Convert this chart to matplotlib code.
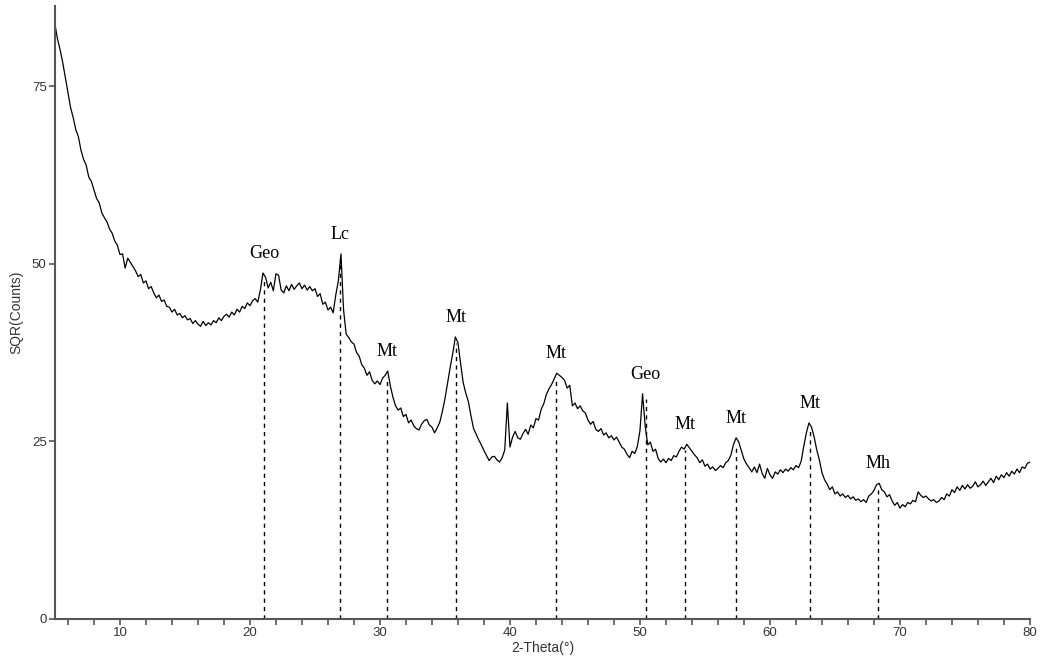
#!/usr/bin/env python

import numpy as np
import matplotlib
matplotlib.use("Agg")
import matplotlib.pyplot as plt
from matplotlib.ticker import MultipleLocator

#### Diffraction scan, 5-80 deg 2-theta in 0.2 deg steps, sqrt of counts ####
sqr_counts = [
    83.7, 81.6, 80.1, 78.3, 76.2, 74.1, 72.0, 70.6, 68.9, 67.9,   # 5.0 - 6.8
    66.0, 64.7, 63.9, 62.2, 61.6, 60.4, 59.2, 58.6, 57.2, 56.5,   # 7.0 - 8.8
    55.9, 54.9, 54.3, 53.2, 52.6, 51.3, 51.4, 49.4, 50.8, 50.2,   # 9.0 - 10.8
    49.6, 49.0, 48.2, 48.5, 47.3, 47.6, 46.5, 46.8, 45.9, 45.2,   # 11.0 - 12.8
    45.6, 44.7, 44.9, 44.0, 43.9, 43.2, 43.6, 42.8, 43.0, 42.4,   # 13.0 - 14.8
    42.7, 42.1, 42.3, 41.6, 42.0, 41.5, 41.2, 41.9, 41.3, 41.7,   # 15.0 - 16.8
    41.4, 42.0, 41.7, 42.4, 42.0, 42.6, 42.9, 42.5, 43.2, 42.8,   # 17.0 - 18.8
    43.6, 43.2, 44.0, 43.7, 44.5, 44.1, 44.8, 45.1, 44.6, 46.3,   # 19.0 - 20.8
    48.7, 48.1, 46.6, 47.4, 46.2, 48.6, 48.4, 46.3, 45.9, 46.9,   # 21.0 - 22.8
    46.2, 47.1, 46.4, 46.9, 47.3, 46.5, 47.0, 46.3, 46.8, 46.2,   # 23.0 - 24.8
    46.5, 45.4, 45.8, 44.3, 44.6, 43.5, 43.9, 43.1, 45.6, 47.6,   # 25.0 - 26.8
    51.4, 43.5, 40.1, 39.6, 39.0, 38.7, 37.5, 37.0, 35.8, 35.3,   # 27.0 - 28.8
    34.3, 34.8, 33.6, 33.1, 33.5, 33.0, 33.9, 34.3, 34.9, 32.8,   # 29.0 - 30.8
    31.2, 30.0, 29.4, 29.7, 28.5, 28.8, 27.6, 28.0, 27.2, 26.8,   # 31.0 - 32.8
    26.6, 27.4, 27.9, 28.1, 27.3, 27.0, 26.2, 26.9, 27.7, 29.2,   # 33.0 - 34.8
    31.0, 33.2, 35.4, 37.4, 39.7, 38.9, 36.0, 33.3, 31.8, 30.6,   # 35.0 - 36.8
    28.6, 26.8, 26.0, 25.2, 24.5, 23.7, 23.0, 22.3, 22.8, 22.9,   # 37.0 - 38.8
    22.4, 22.1, 22.7, 23.8, 30.4, 24.2, 25.6, 26.4, 25.5, 25.3,   # 39.0 - 40.8
    26.1, 26.7, 26.0, 27.3, 26.9, 28.2, 28.0, 29.5, 30.3, 31.6,   # 41.0 - 42.8
    32.4, 33.0, 33.8, 34.6, 34.3, 34.0, 33.6, 32.5, 32.9, 30.0,   # 43.0 - 44.8
    30.4, 29.6, 30.0, 29.3, 29.0, 28.0, 27.4, 27.8, 26.7, 26.4,   # 45.0 - 46.8
    26.8, 25.9, 26.2, 25.5, 25.8, 25.2, 25.6, 24.9, 24.2, 23.9,   # 47.0 - 48.8
    23.2, 22.7, 23.6, 23.3, 24.3, 26.5, 31.7, 27.2, 24.5, 24.9,   # 49.0 - 50.8
    23.6, 23.9, 22.6, 22.1, 22.5, 22.0, 22.6, 22.3, 23.0, 22.8,   # 51.0 - 52.8
    23.6, 24.2, 23.9, 24.6, 24.1, 23.6, 23.1, 22.7, 22.0, 22.4,   # 53.0 - 54.8
    21.5, 21.8, 21.1, 21.4, 20.9, 21.2, 21.6, 21.3, 22.0, 22.3,   # 55.0 - 56.8
    23.1, 24.6, 25.5, 24.9, 23.7, 22.5, 21.8, 21.3, 20.7, 21.4,   # 57.0 - 58.8
    20.6, 21.8, 20.5, 19.8, 21.2, 20.3, 19.8, 20.7, 20.4, 21.0,   # 59.0 - 60.8
    20.6, 21.1, 20.8, 21.3, 21.0, 21.6, 21.3, 22.2, 24.3, 26.2,   # 61.0 - 62.8
    27.6, 27.0, 25.6, 23.8, 22.4, 20.6, 19.6, 19.0, 18.2, 18.6,   # 63.0 - 64.8
    17.6, 17.9, 17.3, 17.6, 17.1, 17.4, 16.9, 17.2, 16.7, 16.9,   # 65.0 - 66.8
    16.5, 16.8, 16.4, 17.3, 17.6, 18.1, 18.9, 19.1, 18.2, 17.9,   # 67.0 - 68.8
    17.2, 17.5, 16.6, 16.0, 16.4, 15.6, 16.1, 15.8, 16.4, 16.2,   # 69.0 - 70.8
    16.7, 16.5, 17.9, 17.4, 17.1, 17.3, 16.9, 16.6, 16.8, 16.4,   # 71.0 - 72.8
    16.6, 17.1, 16.8, 17.6, 17.3, 18.2, 17.8, 18.6, 18.1, 18.8,   # 73.0 - 74.8
    18.3, 18.9, 18.4, 18.7, 19.3, 18.6, 18.9, 19.4, 18.8, 19.3,   # 75.0 - 76.8
    19.8, 19.2, 20.1, 19.6, 20.3, 19.9, 20.6, 20.1, 20.8, 20.4,   # 77.0 - 78.8
    21.1, 20.6, 21.4, 21.2, 21.9, 22.1,                           # 79.0 - 80.0
]
two_theta = np.linspace(5.0, 80.0, len(sqr_counts))

#### Phase identification ####
peak_pos = [21.1, 26.95, 30.55, 35.85, 43.55, 50.45, 53.5, 57.42, 63.1, 68.33]
peak_name = ["Geo", "Lc", "Mt", "Mt", "Mt", "Geo", "Mt", "Mt", "Mt", "Mh"]

#### Plotting ####
plt.rcParams['font.family'] = ['Liberation Sans', 'DejaVu Sans']
fig = plt.figure(figsize=(10.45, 6.68), dpi=100)
ax = fig.add_axes([0.0526, 0.0734, 0.933, 0.9177])

ax.plot(two_theta, sqr_counts, color='black', lw=0.9)

counts = np.array(sqr_counts)
for pos, name in zip(peak_pos, peak_name):
    # highest point of the trace close to the marked position
    near = np.abs(two_theta - pos) <= 0.25
    top = counts[near].max()
    ax.vlines(pos, 0, top - 0.8, colors='black', linestyles=(0, (3, 3)), lw=1.0)
    ax.annotate(name, (pos, top), xytext=(0, 8), textcoords='offset points',
                ha='center', va='bottom', fontsize=13,
                family=['Liberation Serif', 'DejaVu Serif'])

ax.set_xlim(5, 80)
ax.set_ylim(0, 86.3)
ax.xaxis.set_major_locator(MultipleLocator(10))
ax.xaxis.set_minor_locator(MultipleLocator(2))
ax.yaxis.set_major_locator(MultipleLocator(25))

for s in ['top', 'right']:
    ax.spines[s].set_visible(False)
for s in ['left', 'bottom']:
    ax.spines[s].set_color('#555555')
    ax.spines[s].set_linewidth(1.5)

ax.tick_params(axis='both', which='both', direction='out', color='#555555',
               labelcolor='#333333', labelsize=9.5, width=1.2)
ax.tick_params(axis='both', which='major', length=4, pad=2)
ax.tick_params(axis='x', which='minor', length=4)

ax.set_xlabel("2-Theta(°)", fontsize=10, color='#333333', labelpad=1)
ax.set_ylabel("SQR(Counts)", fontsize=10, color='#333333', labelpad=6)

plt.savefig('out.png', dpi=100)
